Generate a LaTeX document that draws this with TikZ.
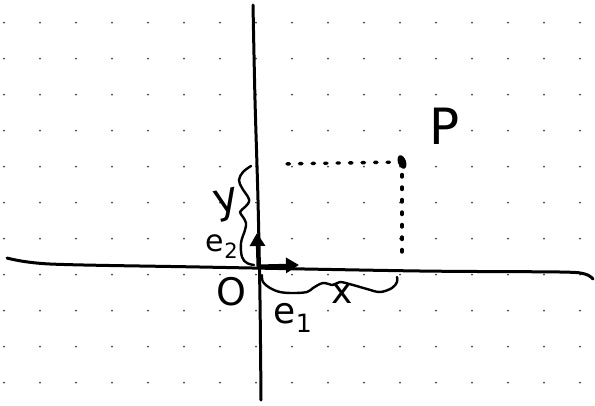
\documentclass[tikz,border=0pt]{standalone}
\usepackage{fontspec}
\setsansfont{DejaVu Sans}
\usetikzlibrary{arrows.meta}
\tikzset{
  pen/.style={line width=3pt, line cap=round, line join=round, black},
  thinpen/.style={line width=2.4pt, line cap=round, line join=round, black},
  griddot/.style={fill=black!75},
  dotline/.style={line width=3.4pt, line cap=round, dash pattern=on 2.5pt off 10pt, black},
  hand/.style={font=\sffamily, inner sep=0pt},
  vec/.style={pen, -{Triangle[length=13pt,width=15pt]}}
}
\begin{document}
\begin{tikzpicture}[x=1pt,y=-1pt]
\useasboundingbox (0,0) rectangle (595,405);
% dotted grid
\foreach \i in {0,...,16}{
  \foreach \j in {0,...,10}{
    \fill[griddot] (4+36*\i,22.7+36*\j) circle (1pt);
  }
}
% named coordinates
\coordinate (O) at (258,266);
\coordinate (e2tip) at (257,233);
\coordinate (e1tip) at (299,265);
\coordinate (Pt) at (402,162);
\coordinate (Py) at (278,164);
\coordinate (Px) at (402,261);
% axes
\draw[pen] plot[smooth] coordinates {(7,258) (50,264) (200,267) (420,271) (560,272) (585,274) (593,279)};
\draw[pen] plot[smooth] coordinates {(253,5) (255,100) (258,200) (260,300) (261,400)};
% basis vectors
\draw[vec] (O) -- (e2tip);
\draw[vec] (O) -- (e1tip);
% dotted projection lines
\draw[dotline] (Pt) -- (Py);
\draw[dotline] (Pt) -- (Px);
% point P
\fill[black, rotate around={20:(Pt)}] (Pt) ellipse (4pt and 7pt);
% y brace
\draw[thinpen] plot[smooth, tension=0.6] coordinates {(251,166) (243,172) (239,180) (242,188) (248,197) (249,202) (245,207) (240,212) (243,217) (246,223) (245,230) (241,243) (242,257) (247,263) (254,265)};
% x brace
\draw[thinpen] plot[smooth, tension=0.6] coordinates {(262,275) (263,282) (270,288) (280,292) (293,293) (307,292) (313,288) (323,283) (333,285) (340,282) (353,285) (367,289) (380,292) (392,288) (397,282) (397,277)};
% labels
\node[hand, font=\sffamily\fontsize{50}{50}\selectfont] (labP) at (445,126) {P};
\node[hand, font=\sffamily\fontsize{42}{42}\selectfont, rotate=12] (laby) at (227,205) {y};
\node[hand, font=\sffamily\fontsize{30}{30}\selectfont] (labe2) at (222,247) {e\textsubscript{2}};
\node[hand, font=\sffamily\fontsize{38}{38}\selectfont] (labO) at (231,292) {O};
\node[hand, font=\sffamily\fontsize{36}{36}\selectfont] (labe1) at (293,318) {e\textsubscript{1}};
\node[hand, font=\sffamily\fontsize{36}{36}\selectfont] (labx) at (342,294) {x};
\end{tikzpicture}
\end{document}
